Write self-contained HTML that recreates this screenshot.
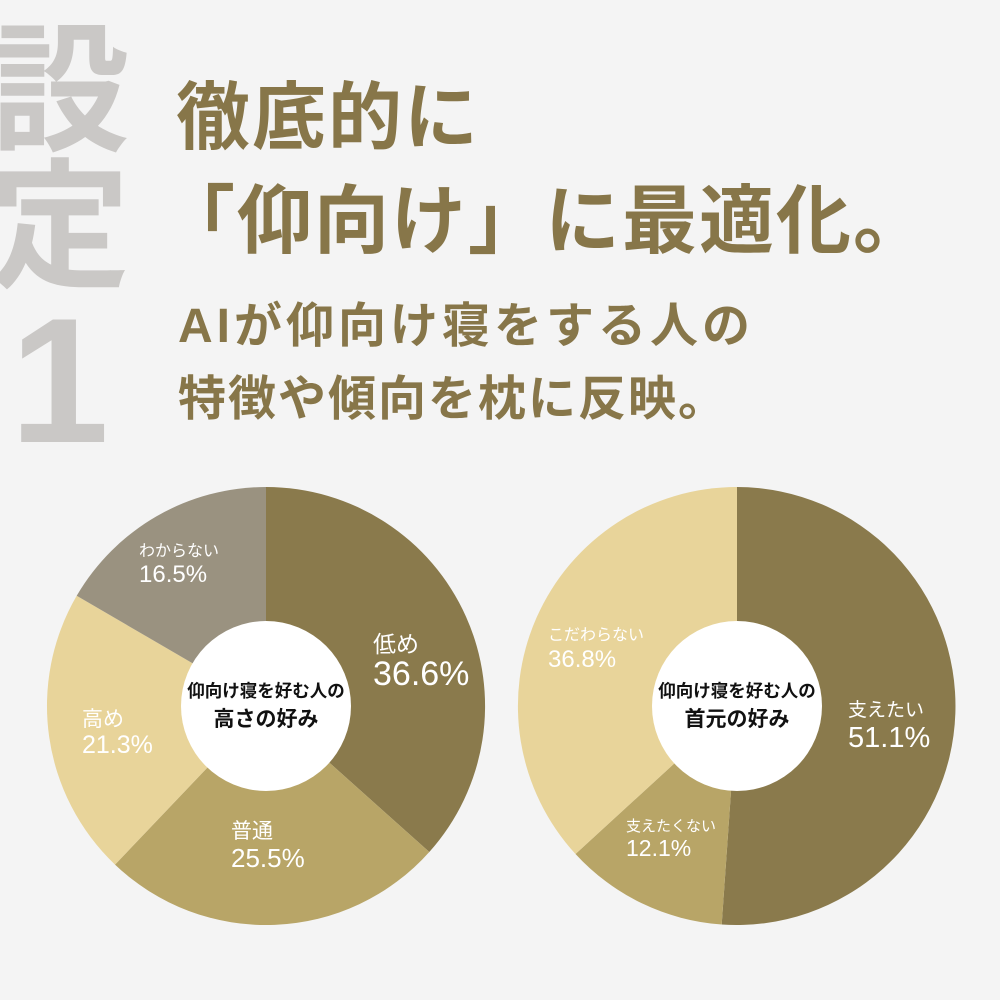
<!DOCTYPE html>
<html><head><meta charset="utf-8"><style>
body{margin:0;width:1000px;height:1000px;background:#f4f4f4;overflow:hidden;position:relative;font-family:"Liberation Sans","Noto Sans CJK JP",sans-serif}
.t{position:absolute;color:#877649;font-weight:bold;white-space:nowrap}
.g{position:absolute;color:#cac8c6;font-weight:bold;font-size:140px;line-height:1}
svg{position:absolute;left:0;top:0}
</style></head><body>
<div class="g" style="left:-10px;top:22px">設</div>
<div class="g" style="left:-10px;top:158px">定</div>
<div class="g" style="left:10px;top:292px;font-size:178px;font-family:'Liberation Sans',sans-serif">1</div>
<div class="t" style="left:176px;top:58px;font-size:74px;letter-spacing:2px">徹底的に</div>
<div class="t" style="left:160px;top:160px;font-size:75px;letter-spacing:2px">「仰向け」に最適化。</div>
<div class="t" style="left:178px;top:286px;font-size:48px;letter-spacing:4px">AIが仰向け寝をする人の</div>
<div class="t" style="left:178px;top:359px;font-size:48px;letter-spacing:2px">特徴や傾向を枕に反映。</div>
<svg width="1000" height="1000" font-family="Liberation Sans, Noto Sans CJK JP, sans-serif">
<path d="M266 706 L266 487 A219 219 0 0 1 429.3 852 Z" fill="#8a7a4c"/>
<path d="M266 706 L429.3 852 A219 219 0 0 1 115 864.6 Z" fill="#b8a567"/>
<path d="M266 706 L115 864.6 A219 219 0 0 1 76.7 595.8 Z" fill="#e8d49a"/>
<path d="M266 706 L76.7 595.8 A219 219 0 0 1 266 487 Z" fill="#9a9280"/>
<circle cx="266" cy="706" r="85" fill="#fff"/>
<path d="M737 706 L737 487 A219 219 0 1 1 721.7 924.5 Z" fill="#8a7a4c"/>
<path d="M737 706 L721.7 924.5 A219 219 0 0 1 575.5 854 Z" fill="#b8a567"/>
<path d="M737 706 L575.5 854 A219 219 0 0 1 737 487 Z" fill="#e8d49a"/>
<circle cx="737" cy="706" r="85" fill="#fff"/>
<g fill="#fff">
<text x="139" y="556" font-size="16">わからない</text>
<text x="139" y="582" font-size="24">16.5%</text>
<text x="373" y="652" font-size="23">低め</text>
<text x="373" y="685" font-size="34">36.6%</text>
<text x="82" y="726" font-size="21">高め</text>
<text x="82" y="753" font-size="25">21.3%</text>
<text x="231" y="838" font-size="21">普通</text>
<text x="231" y="867" font-size="26">25.5%</text>
<text x="548" y="640" font-size="16">こだわらない</text>
<text x="548" y="667" font-size="24">36.8%</text>
<text x="848" y="716" font-size="19">支えたい</text>
<text x="848" y="747" font-size="29">51.1%</text>
<text x="626" y="831" font-size="15">支えたくない</text>
<text x="626" y="856" font-size="23">12.1%</text>
</g>
<g fill="#111" font-weight="bold" text-anchor="middle">
<text x="266" y="697" font-size="17.5">仰向け寝を好む人の</text>
<text x="266" y="726" font-size="21">高さの好み</text>
<text x="737" y="697" font-size="17.5">仰向け寝を好む人の</text>
<text x="737" y="726" font-size="21">首元の好み</text>
</g>
</svg>
</body></html>
